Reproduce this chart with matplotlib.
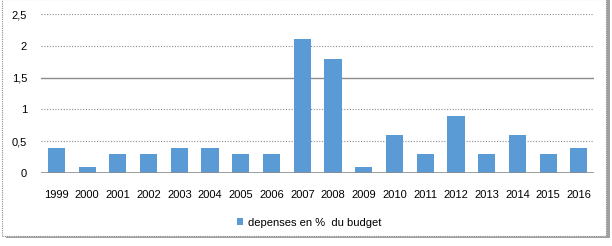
import matplotlib.pyplot as plt
from matplotlib.patches import Rectangle
from matplotlib.ticker import FuncFormatter

years = ["1999", "2000", "2001", "2002", "2003", "2004", "2005", "2006", "2007",
         "2008", "2009", "2010", "2011", "2012", "2013", "2014", "2015", "2016"]
depenses = [0.4, 0.1, 0.3, 0.3, 0.4, 0.4, 0.3, 0.3, 2.1,
            1.8, 0.1, 0.6, 0.3, 0.9, 0.3, 0.6, 0.3, 0.4]
legend_label = "depenses en %  du budget"

plt.rcParams["font.family"] = ["Liberation Sans", "DejaVu Sans"]

fig = plt.figure(figsize=(6.12, 2.46), dpi=100)

# outer chart frame with a little shadow
fig.patches.append(Rectangle((0.009, 0.032), 0.988, 0.972, transform=fig.transFigure,
                             facecolor="#a0a0a0", edgecolor="none", zorder=-2))
fig.patches.append(Rectangle((0.003, 0.04), 0.988, 0.965, transform=fig.transFigure,
                             facecolor="white", edgecolor="#8c8c8c", linewidth=0.8,
                             linestyle=(0, (1, 1)), zorder=-1))

ax = fig.add_axes([0.067, 0.297, 0.904, 0.646])
ax.set_zorder(2)
ax.patch.set_visible(False)
x = range(len(years))
ax.bar(x, depenses, width=0.56, color="#5b9bd5", label=legend_label, zorder=3)

ax.set_ylim(0, 2.5)
ax.set_yticks([0, 0.5, 1, 1.5, 2, 2.5])
ax.yaxis.set_major_formatter(FuncFormatter(lambda v, p: f"{v:g}".replace(".", ",")))
ax.set_xlim(-0.5, len(years) - 0.5)
ax.set_xticks(list(x))
ax.set_xticklabels(years)

for y in [0.5, 1, 2, 2.5]:
    ax.axhline(y, color="#8c8c8c", linewidth=0.8, linestyle=(0, (1, 1.5)), zorder=1)
ax.axhline(1.5, color="#8c8c8c", linewidth=1.0, zorder=1)
ax.axhline(0, color="#8c8c8c", linewidth=1.2, zorder=4)

for s in ax.spines.values():
    s.set_visible(False)
ax.tick_params(axis="both", length=0, labelsize=8, colors="black")
ax.tick_params(axis="x", pad=12)
ax.tick_params(axis="y", pad=10)

fig.legend(loc="center", bbox_to_anchor=(0.505, 0.095), frameon=False, fontsize=8,
           handlelength=0.6, handleheight=0.6, handletextpad=0.4)

fig.savefig("out.png", dpi=100)
